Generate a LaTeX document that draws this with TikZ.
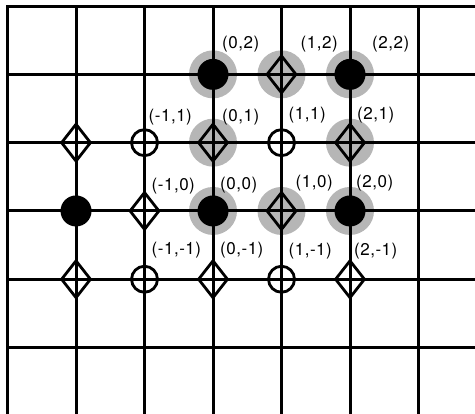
\documentclass[tikz,border=0pt]{standalone}
\usepackage{fontspec}
\usepackage{tikz}
\usetikzlibrary{shapes.geometric}
\newfontfamily\lblfont[LetterSpace=3]{TeX Gyre Heros}
\definecolor{halogray}{RGB}{182,182,182}
\tikzset{
  gridline/.style={line width=3pt, color=black},
  halo/.style={circle, fill=halogray, minimum size=48pt, inner sep=0pt},
  dot/.style={circle, fill=black, minimum size=31pt, inner sep=0pt},
  ring/.style={circle, draw=black, line width=2.8pt, minimum size=26pt, inner sep=0pt},
  rhomb/.style={diamond, draw=black, line width=2.8pt, minimum width=30pt,
    minimum height=38pt, inner sep=0pt},
  coordlbl/.style={anchor=west, inner sep=0pt, font=\lblfont\fontsize{17}{20}\selectfont}
}

\begin{document}
\begin{tikzpicture}[x=68.5pt, y=68.3pt]
  \useasboundingbox (-3.11,-2.972) rectangle (3.825,3.089);

  % gray halos behind the lattice
  \foreach \name/\i/\j in {h02/0/2, h12/1/2, h22/2/2, h01/0/1, h21/2/1,
    h00/0/0, h10/1/0, h20/2/0}
    \node[halo] (\name) at (\i,\j) {};

  % lattice lines
  \draw[gridline, line join=miter] (3.825,3) -- (-3,3) -- (-3,-2.972);
  \foreach \i in {-2,...,3}
    \draw[gridline] (\i,3) -- (\i,-2.972);
  \foreach \j in {-2,...,2}
    \draw[gridline] (-3,\j) -- (3.825,\j);

  % lattice sites
  \foreach \name/\i/\j/\kind in {p02/0/2/dot, p12/1/2/rhomb, p22/2/2/dot,
    pm21/-2/1/rhomb, pm11/-1/1/ring, p01/0/1/rhomb, p11/1/1/ring, p21/2/1/rhomb,
    pm20/-2/0/dot, pm10/-1/0/rhomb, p00/0/0/dot, p10/1/0/rhomb, p20/2/0/dot,
    pm2m1/-2/-1/rhomb, pm1m1/-1/-1/ring, p0m1/0/-1/rhomb, p1m1/1/-1/ring, p2m1/2/-1/rhomb}
    \node[\kind] (\name) at (\i,\j) {};

  % site labels
  \foreach \name/\i/\j/\dx/\dy in {p02/0/2/9/30, p12/1/2/19/30, p22/2/2/22/30,
    pm11/-1/1/4/26, p01/0/1/9/26, p11/1/1/7/28, p21/2/1/7/28,
    pm10/-1/0/7/25, p00/0/0/7/26, p10/1/0/14/28, p20/2/0/6/28,
    pm1m1/-1/-1/7/29, p0m1/0/-1/7/29, p1m1/1/-1/7/28, p2m1/2/-1/4/28}
    \node[coordlbl] (l\name) at ([shift={(\dx pt,\dy pt)}]\name) {(\i,\j)};
\end{tikzpicture}
\end{document}
